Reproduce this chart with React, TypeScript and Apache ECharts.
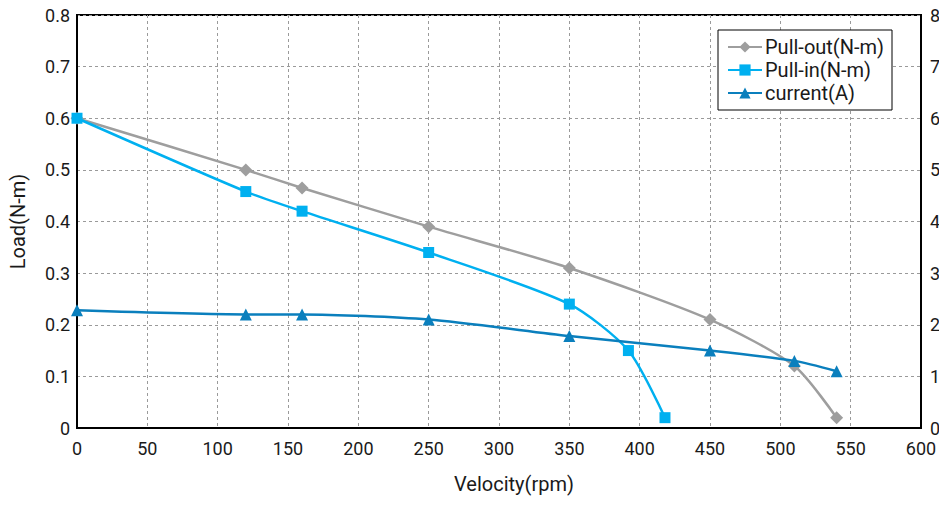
import React, { useEffect, useRef } from "react";
import * as echarts from "echarts";

const pullOut: [number, number][] = [
  [0, 0.6], [120, 0.5], [160, 0.465], [250, 0.39], [350, 0.31], [450, 0.21], [510, 0.12], [540, 0.02],
];
const pullIn: [number, number][] = [
  [0, 0.6], [120, 0.458], [160, 0.42], [250, 0.34], [350, 0.24], [392, 0.15], [418, 0.02],
];
const current: [number, number][] = [
  [0, 2.28], [120, 2.2], [160, 2.2], [250, 2.1], [350, 1.78], [450, 1.5], [510, 1.3], [540, 1.1],
];
const seriesNames = ["Pull-out(N-m)", "Pull-in(N-m)", "current(A)"];

const FONT = "Roboto";

export default function App() {
  const ref = useRef<HTMLDivElement>(null);
  useEffect(() => {
    if (!ref.current) return;
    const chart = echarts.init(ref.current, null, { renderer: "svg" });
    const gridLine = { show: true, lineStyle: { color: "#9a9a9a", type: [3, 3] as any, width: 1 } };
    chart.setOption({
      animation: false,
      textStyle: { fontFamily: FONT },
      grid: { left: 77, right: 26, top: 15, bottom: 77, show: true, borderColor: "#000", borderWidth: 2 },
      legend: {
        orient: "vertical",
        left: 718,
        top: 30,
        data: seriesNames,
        backgroundColor: "#fff",
        borderColor: "#000",
        borderWidth: 1,
        padding: [7, 8, 7, 9],
        itemGap: 3,
        itemWidth: 34,
        itemHeight: 14,
        textStyle: { fontFamily: FONT, fontSize: 20, color: "#1a1a1a", padding: [0, 0, 0, -2] },
      },
      xAxis: {
        type: "value",
        min: 0,
        max: 600,
        interval: 50,
        name: "Velocity(rpm)",
        nameLocation: "middle",
        nameGap: 46,
        nameTextStyle: { fontFamily: FONT, fontSize: 20, color: "#1a1a1a", padding: [0, 0, 0, 30] },
        axisLine: { show: true, lineStyle: { color: "#000", width: 2 } },
        axisTick: { show: false },
        axisLabel: { fontFamily: FONT, fontSize: 18, color: "#1a1a1a", margin: 11 },
        splitLine: gridLine,
      },
      yAxis: [
        {
          type: "value",
          min: 0,
          max: 0.8,
          interval: 0.1,
          name: "Load(N-m)",
          nameLocation: "middle",
          nameGap: 49,
          nameTextStyle: { fontFamily: FONT, fontSize: 20, color: "#1a1a1a" },
          axisLine: { show: true, lineStyle: { color: "#000", width: 2 } },
          axisTick: { show: false },
          axisLabel: { fontFamily: FONT, fontSize: 18, color: "#1a1a1a", margin: 7 },
          splitLine: gridLine,
        },
        {
          type: "value",
          min: 0,
          max: 8,
          interval: 1,
          position: "right",
          axisLine: { show: true, lineStyle: { color: "#000", width: 2 } },
          axisTick: { show: false },
          axisLabel: { fontFamily: FONT, fontSize: 18, color: "#1a1a1a", margin: 9 },
          splitLine: { show: false },
        },
      ],
      series: [
        {
          name: seriesNames[0],
          type: "line",
          data: pullOut,
          smooth: 0.25,
          symbol: "diamond",
          symbolSize: 13,
          color: "#9e9e9e",
          lineStyle: { width: 2.5, color: "#9e9e9e" },
          itemStyle: { color: "#9e9e9e" },
          z: 2,
        },
        {
          name: seriesNames[1],
          type: "line",
          data: pullIn,
          smooth: 0.25,
          symbol: "rect",
          symbolSize: 11,
          color: "#00b0f0",
          lineStyle: { width: 2.5, color: "#00b0f0" },
          itemStyle: { color: "#00b0f0" },
          z: 3,
        },
        {
          name: seriesNames[2],
          type: "line",
          yAxisIndex: 1,
          data: current,
          smooth: 0.25,
          symbol: "triangle",
          symbolSize: 12,
          color: "#0a7fbd",
          lineStyle: { width: 2.5, color: "#0a7fbd" },
          itemStyle: { color: "#0a7fbd" },
          z: 4,
        },
      ],
    });
    return () => chart.dispose();
  }, []);
  return <div ref={ref} style={{ width: 947, height: 505, margin: -8 }} />;
}
